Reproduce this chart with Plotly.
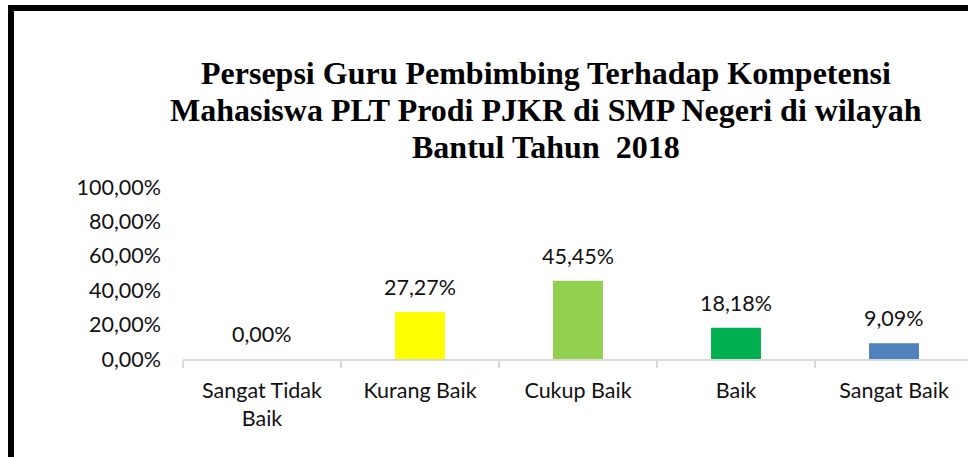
import plotly.graph_objects as go

categories = ["Sangat Tidak<br>Baik", "Kurang Baik", "Cukup Baik", "Baik", "Sangat Baik"]
values = [0.0, 0.2727, 0.4545, 0.1818, 0.0909]
label_texts = ["0,00%", "27,27%", "45,45%", "18,18%", "9,09%"]
bar_colors = ["#FFFF00", "#FFFF00", "#92D050", "#00B050", "#4F81BD"]
y_ticks = [0, 0.2, 0.4, 0.6, 0.8, 1.0]
title_lines = [
    "Persepsi Guru Pembimbing Terhadap Kompetensi",
    "Mahasiswa PLT Prodi PJKR di SMP Negeri di wilayah",
    "Bantul Tahun\u00a0 2018",
]

W, H = 968, 457
L, R = 183, 0
TOP, BOT = 186.5, 359.5
PW, PH = W - L - R, BOT - TOP


def px2x(px):
    return (px - L) / PW


def py2y(py):
    return (BOT - py) / PH


BODY_FONT = "Lato, 'Open Sans', sans-serif"
TITLE_FONT = "'Liberation Serif', 'Times New Roman', serif"
FS = 21.5

fig = go.Figure()
fig.add_trace(go.Bar(
    x=categories,
    y=values,
    marker=dict(color=bar_colors, line=dict(width=0)),
    width=0.316,
    hoverinfo="skip",
))

# data labels
for c, v, t in zip(categories, values, label_texts):
    fig.add_annotation(
        x=c, y=v, xref="x", yref="y", text=t, showarrow=False,
        yanchor="middle", xanchor="center", yshift=25,
        font=dict(family=BODY_FONT, size=FS, color="#111111"),
    )

# title lines
title_centers = [72, 109, 146]
for line, cy in zip(title_lines, title_centers):
    fig.add_annotation(
        x=px2x(546), y=py2y(cy), xref="paper", yref="paper", text="<b>" + line + "</b>",
        showarrow=False, xanchor="center", yanchor="middle",
        font=dict(family=TITLE_FONT, size=32, color="#000000"),
    )

# chart border (left & top visible)
fig.add_shape(
    type="rect", xref="paper", yref="paper",
    x0=px2x(11), x1=px2x(W + 50), y0=py2y(H + 50), y1=py2y(6.5),
    line=dict(color="#000000", width=6), fillcolor="rgba(0,0,0,0)", layer="above",
)

n = len(categories)
fig.update_layout(
    width=W, height=H,
    margin=dict(l=L, r=R, t=TOP, b=H - BOT, pad=0),
    paper_bgcolor="white", plot_bgcolor="white",
    separators=",.",
    showlegend=False,
    xaxis=dict(
        range=[-0.5, -0.5 + n * PW / 790.0],
        showgrid=False, zeroline=False,
        showline=True, linecolor="#D9D9D9", linewidth=1.5,
        ticks="outside", tickson="boundaries", ticklen=7, tickcolor="#D9D9D9", tickwidth=1.5,
        tickfont=dict(family=BODY_FONT, size=FS, color="#111111"),
        ticklabelstandoff=12,
        fixedrange=True,
    ),
    yaxis=dict(
        range=[0, 1],
        tickvals=y_ticks, tickformat=".2%",
        showgrid=False, zeroline=False, showline=False, ticks="",
        tickfont=dict(family=BODY_FONT, size=FS, color="#111111"),
        ticklabelstandoff=21,
        fixedrange=True,
    ),
)

fig.write_html(
    "out.html",
    config={"displayModeBar": False, "staticPlot": True},
    post_script="document.body.style.margin='0';document.body.style.overflow='hidden';",
)
